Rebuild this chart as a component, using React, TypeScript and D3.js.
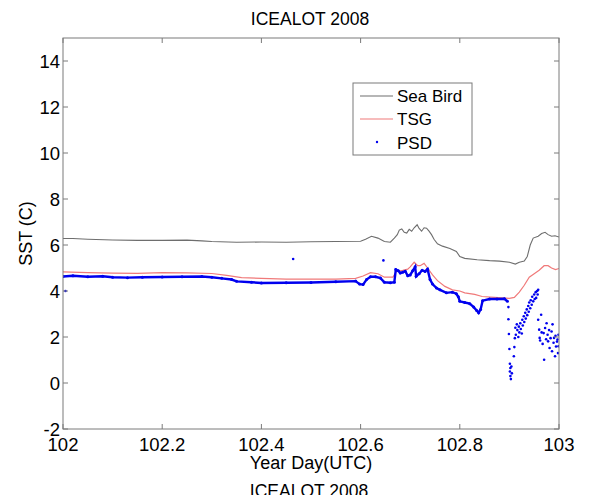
import React from "react";
import * as d3 from "d3";

// chart size and plot box
const width = 590;
const height = 495;
const marginTop = 38;
const marginRight = 31;
const marginBottom = 66;
const marginLeft = 63;

const xTicks = [102, 102.2, 102.4, 102.6, 102.8, 103];
const yTicks = [-2, 0, 2, 4, 6, 8, 10, 12, 14];

// Sea Bird SST [yearDay, degC]
const seaBird: [number, number][] = [
  [102.0, 6.28], [102.02, 6.28], [102.05, 6.25], [102.1, 6.22], [102.15, 6.2],
  [102.2, 6.2], [102.25, 6.21], [102.28, 6.18], [102.3, 6.15], [102.35, 6.12],
  [102.4, 6.13], [102.45, 6.12], [102.5, 6.14], [102.55, 6.15], [102.6, 6.16],
  [102.61, 6.25], [102.622, 6.38], [102.635, 6.3], [102.648, 6.15], [102.66, 6.12],
  [102.668, 6.3], [102.674, 6.45], [102.678, 6.65], [102.683, 6.7], [102.688, 6.55],
  [102.693, 6.52], [102.698, 6.68], [102.703, 6.6], [102.708, 6.75], [102.714, 6.88],
  [102.718, 6.72], [102.723, 6.6], [102.728, 6.75], [102.733, 6.73], [102.738, 6.6],
  [102.743, 6.45], [102.748, 6.25], [102.755, 6.05], [102.765, 5.95], [102.78, 5.85],
  [102.793, 5.72], [102.8, 5.5], [102.81, 5.42], [102.835, 5.36], [102.86, 5.32],
  [102.88, 5.3], [102.9, 5.25], [102.912, 5.17], [102.92, 5.25], [102.93, 5.3],
  [102.936, 5.5], [102.942, 6.0], [102.948, 6.3], [102.958, 6.38], [102.965, 6.5],
  [102.972, 6.55], [102.978, 6.45], [102.985, 6.38], [102.992, 6.4], [103.0, 6.35],
];

// TSG SST [yearDay, degC]
const tsg: [number, number][] = [
  [102.0, 4.83], [102.05, 4.8], [102.1, 4.78], [102.15, 4.77], [102.2, 4.8],
  [102.25, 4.79], [102.3, 4.76], [102.33, 4.68], [102.36, 4.58], [102.4, 4.55],
  [102.45, 4.52], [102.5, 4.52], [102.55, 4.52], [102.59, 4.55], [102.605, 4.65],
  [102.62, 4.8], [102.635, 4.75], [102.648, 4.6], [102.665, 4.6], [102.672, 4.85],
  [102.685, 4.9], [102.695, 4.95], [102.7, 5.05], [102.708, 5.25], [102.715, 5.1],
  [102.72, 5.1], [102.728, 5.2], [102.735, 5.0], [102.745, 4.7], [102.755, 4.45],
  [102.77, 4.2], [102.785, 4.05], [102.8, 4.0], [102.81, 3.92], [102.83, 3.85],
  [102.845, 3.76], [102.87, 3.72], [102.9, 3.68], [102.91, 3.72], [102.92, 3.95],
  [102.93, 4.25], [102.94, 4.6], [102.95, 4.75], [102.96, 4.9], [102.97, 5.1],
  [102.978, 5.1], [102.985, 5.0], [102.993, 4.93], [103.0, 4.98],
];

// PSD dense run (drawn as a thick dotted trace)
const psdTrace: [number, number][] = [
  [102.0, 4.63], [102.02, 4.66], [102.05, 4.62], [102.08, 4.64], [102.1, 4.6],
  [102.13, 4.58], [102.16, 4.6], [102.2, 4.61], [102.24, 4.62], [102.28, 4.63],
  [102.3, 4.6], [102.32, 4.55], [102.34, 4.5], [102.35, 4.42], [102.38, 4.38],
  [102.4, 4.35], [102.45, 4.36], [102.5, 4.37], [102.55, 4.4], [102.59, 4.43],
  [102.598, 4.3], [102.605, 4.28], [102.612, 4.5], [102.62, 4.62], [102.63, 4.62],
  [102.64, 4.56], [102.648, 4.38], [102.66, 4.36], [102.668, 4.38], [102.671, 4.93],
  [102.676, 4.88], [102.68, 4.78], [102.685, 4.82], [102.69, 4.86], [102.695, 4.66],
  [102.7, 4.7], [102.705, 4.88], [102.71, 5.05], [102.712, 4.64], [102.718, 4.75],
  [102.724, 4.9], [102.73, 4.85], [102.735, 4.95], [102.74, 4.5], [102.745, 4.3],
  [102.753, 4.13], [102.76, 4.05], [102.773, 3.92], [102.785, 3.95], [102.793, 3.88],
  [102.797, 3.75], [102.8, 3.55], [102.81, 3.5], [102.82, 3.45], [102.828, 3.3],
  [102.834, 3.15], [102.838, 3.05], [102.842, 3.2], [102.846, 3.58], [102.86, 3.65],
  [102.875, 3.65], [102.89, 3.66], [102.896, 3.55],
];

// PSD scattered points
const psdScatter: [number, number][] = [
  [102.005, 4.0], [102.464, 5.39], [102.646, 5.33],
  [102.898, 3.3], [102.898, 2.77], [102.899, 2.13], [102.9, 1.48], [102.901, 0.84],
  [102.902, 0.65], [102.901, 0.5], [102.902, 0.3], [102.903, 0.17], [102.904, 0.72],
  [102.905, 0.42], [102.91, 1.56], [102.909, 1.16], [102.911, 1.95],
  [102.912, 2.4], [102.913, 2.1], [102.915, 2.55], [102.916, 2.3], [102.918, 2.0],
  [102.919, 2.45], [102.92, 2.2], [102.922, 2.6], [102.923, 2.35], [102.925, 2.15],
  [102.926, 2.75], [102.927, 2.5], [102.929, 2.9], [102.93, 2.65], [102.932, 3.05],
  [102.933, 2.8], [102.935, 3.2], [102.936, 2.95], [102.938, 3.35], [102.939, 3.1],
  [102.94, 3.5], [102.942, 3.25], [102.943, 3.6], [102.945, 3.4], [102.946, 3.75],
  [102.948, 3.55], [102.95, 3.85], [102.951, 3.65], [102.953, 3.95], [102.954, 3.7],
  [102.956, 4.0], [102.957, 3.85], [102.958, 4.05],
  [102.958, 2.75], [102.96, 2.32], [102.961, 1.96], [102.962, 1.85], [102.964, 2.97],
  [102.965, 2.2], [102.967, 1.7], [102.969, 2.17], [102.97, 1.01], [102.972, 2.39],
  [102.974, 1.9], [102.975, 2.6], [102.977, 2.1], [102.978, 1.81], [102.98, 2.3],
  [102.981, 1.52], [102.983, 1.95], [102.985, 2.24], [102.986, 1.38], [102.987, 2.55],
  [102.989, 1.75], [102.99, 1.96], [102.992, 1.16], [102.993, 2.05], [102.994, 1.59],
  [102.996, 1.8], [102.997, 1.89], [102.998, 1.3], [102.999, 1.6], [102.999, 2.1],
];

const font = "Arial, 'Liberation Sans', sans-serif";
const axisColor = "#7a7a7a";

export default function App() {
  const x = d3.scaleLinear().domain([102, 103]).range([marginLeft, width - marginRight]);
  const y = d3.scaleLinear().domain([-2, 15]).range([height - marginBottom, marginTop]);

  const line = d3
    .line<[number, number]>()
    .x((d) => x(d[0]))
    .y((d) => y(d[1]));

  const x0 = marginLeft;
  const x1 = width - marginRight;
  const y0 = height - marginBottom;
  const y1 = marginTop;
  const tick = 5;

  return (
    <svg
      width={width}
      height={height}
      style={{ position: "absolute", left: 0, top: 0, background: "#fff" }}
      fontFamily={font}
    >
      <defs>
        <clipPath id="plot">
          <rect x={x0} y={y1} width={x1 - x0} height={y0 - y1} />
        </clipPath>
        <clipPath id="cut">
          <rect x={0} y={482} width={width} height={20} />
        </clipPath>
      </defs>

      {/* title */}
      <text x={310} y={25} textAnchor="middle" fontSize={17.5}>
        ICEALOT 2008
      </text>

      {/* data */}
      <g clipPath="url(#plot)">
        <path d={line(seaBird) || ""} fill="none" stroke="#6e6e6e" strokeWidth={1.1} />
        <path d={line(tsg) || ""} fill="none" stroke="#f07a7a" strokeWidth={1.2} />
        <path d={line(psdTrace) || ""} fill="none" stroke="#0000ee" strokeWidth={2.4} />
        {psdTrace.map((d, i) => (
          <circle key={"t" + i} cx={x(d[0])} cy={y(d[1])} r={1.5} fill="#0000ee" />
        ))}
        {psdScatter.map((d, i) => (
          <circle key={"s" + i} cx={x(d[0])} cy={y(d[1])} r={1.3} fill="#0000ee" />
        ))}
      </g>

      {/* axes box */}
      <rect x={x0} y={y1} width={x1 - x0} height={y0 - y1} fill="none" stroke={axisColor} strokeWidth={1} />
      {xTicks.map((t) => (
        <g key={"x" + t}>
          <line x1={x(t)} x2={x(t)} y1={y0} y2={y0 - tick} stroke={axisColor} />
          <line x1={x(t)} x2={x(t)} y1={y1} y2={y1 + tick} stroke={axisColor} />
          <text x={x(t)} y={451} textAnchor="middle" fontSize={18.5}>
            {t}
          </text>
        </g>
      ))}
      {yTicks.map((t) => (
        <g key={"y" + t}>
          <line x1={x0} x2={x0 + tick} y1={y(t)} y2={y(t)} stroke={axisColor} />
          <line x1={x1} x2={x1 - tick} y1={y(t)} y2={y(t)} stroke={axisColor} />
          <text x={x0 - 3} y={y(t) + 6.5} textAnchor="end" fontSize={18.5}>
            {t}
          </text>
        </g>
      ))}

      {/* axis labels */}
      <text x={311} y={469} textAnchor="middle" fontSize={18}>
        Year Day(UTC)
      </text>
      <text
        transform={`translate(32,${(y0 + y1) / 2}) rotate(-90)`}
        textAnchor="middle"
        fontSize={18}
      >
        SST (C)
      </text>

      {/* cut-off title of the next panel */}
      <g clipPath="url(#cut)">
        <text x={309} y={497} textAnchor="middle" fontSize={17.5}>
          ICEALOT 2008
        </text>
      </g>

      {/* legend */}
      <g>
        <rect x={353} y={83} width={119} height={72} fill="#fff" stroke={axisColor} />
        <line x1={360} x2={393} y1={96} y2={96} stroke="#6e6e6e" strokeWidth={1.1} />
        <text x={397} y={102} fontSize={17}>Sea Bird</text>
        <line x1={360} x2={393} y1={119} y2={119} stroke="#f07a7a" strokeWidth={1.2} />
        <text x={397} y={125} fontSize={17}>TSG</text>
        <circle cx={377} cy={142} r={1.2} fill="#0000ee" />
        <text x={397} y={149} fontSize={17}>PSD</text>
      </g>
    </svg>
  );
}
